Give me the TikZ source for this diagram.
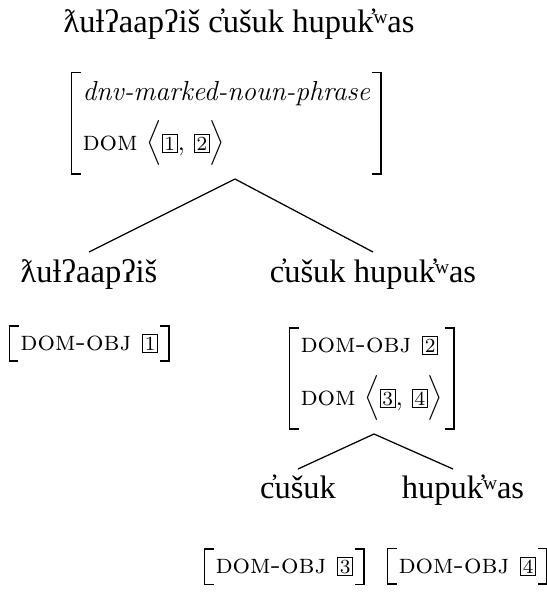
\documentclass[tikz,border=0pt]{standalone}
\usepackage{fontspec}
\newfontfamily\wordfont{Liberation Serif}
\usetikzlibrary{fit}
% boxed structure-sharing tag
\newcommand\tagnum[1]{{\setlength\fboxsep{0.6pt}\setlength\fboxrule{0.4pt}\fbox{\fontsize{8}{9}\selectfont#1}}}
\begin{document}
\begin{tikzpicture}[x=0.4pt,y=-0.4pt,
  word/.style={font=\wordfont\fontsize{13}{15}\selectfont, inner sep=0pt, anchor=base},
  avmrow/.style={font=\fontsize{11}{13}\selectfont, inner sep=0pt, anchor=base west},
  avm/.style={inner xsep=4pt, inner ysep=3pt},
  bracket/.style={line width=0.7pt},
  branch/.style={line width=0.5pt}]
\useasboundingbox (0,0) rectangle (547,601);

% sentence
\node[word, anchor=base west] (s) at (63,32) {ƛuƚʔaapʔiš c̓ušuk hupuk̓ʷas};

% mother AVM
\node[avmrow] (r11) at (82,100) {\textit{dnv-marked-noun-phrase}};
\node[avmrow] (r12) at (82,150) {\textsc{dom} $\Big\langle$\tagnum{1}, \tagnum{2}$\Big\rangle$};
\node[avm, fit=(r11)(r12)] (m1) {};

% daughters
\node[word] (w1) at (89,282) {ƛuƚʔaapʔiš};
\node[word] (w2) at (373,282) {c̓ušuk hupuk̓ʷas};

\node[avmrow] (r21) at (20,350) {\textsc{dom-obj}\hspace{4.5pt}\tagnum{1}};
\node[avm, fit=(r21)] (m2) {};

\node[avmrow] (r31) at (300,352) {\textsc{dom-obj}\hspace{4.5pt}\tagnum{2}};
\node[avmrow] (r32) at (300,405) {\textsc{dom} $\Big\langle$\tagnum{3}, \tagnum{4}$\Big\rangle$};
\node[avm, fit=(r31)(r32)] (m3) {};

% granddaughters
\node[word] (w3) at (298,498) {c̓ušuk};
\node[word] (w4) at (463,498) {hupuk̓ʷas};

\node[avmrow] (r41) at (215,573) {\textsc{dom-obj}\hspace{4.5pt}\tagnum{3}};
\node[avm, fit=(r41)] (m4) {};
\node[avmrow] (r51) at (398,573) {\textsc{dom-obj}\hspace{4.5pt}\tagnum{4}};
\node[avm, fit=(r51)] (m5) {};

% AVM brackets
\foreach \m in {m1,m2,m3,m4,m5}{
  \draw[bracket] ([xshift=3.6pt]\m.north west) -- (\m.north west) -- (\m.south west) -- ++(9,0);
  \draw[bracket] ([xshift=-3.6pt]\m.north east) -- (\m.north east) -- (\m.south east) -- ++(-9,0);
}

% branches
\coordinate (t1) at (235,179);
\coordinate (t2) at (374,434);
\draw[branch] (t1) -- ([yshift=12pt]w1.base);
\draw[branch] (t1) -- ([yshift=12pt]w2.base);
\draw[branch] (t2) -- ([yshift=11.6pt]w3.base);
\draw[branch] (t2) -- ([xshift=-4pt,yshift=11.6pt]w4.base);
\end{tikzpicture}
\end{document}
